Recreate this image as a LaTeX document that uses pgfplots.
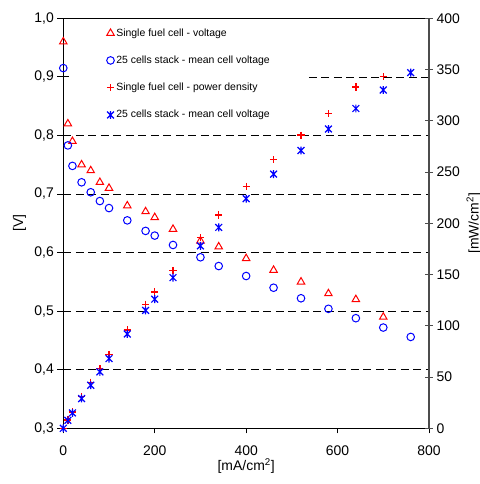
\documentclass[border=0pt]{standalone}
\usepackage{fontspec}
\setmainfont{Liberation Sans}
\usepackage{pgfplots}
\pgfplotsset{compat=1.18}

% Excel-style star: an X with a vertical bar through it
\pgfdeclareplotmark{xstar}{%
  \pgfpathmoveto{\pgfqpoint{-\pgfplotmarksize}{-\pgfplotmarksize}}%
  \pgfpathlineto{\pgfqpoint{\pgfplotmarksize}{\pgfplotmarksize}}%
  \pgfpathmoveto{\pgfqpoint{-\pgfplotmarksize}{\pgfplotmarksize}}%
  \pgfpathlineto{\pgfqpoint{\pgfplotmarksize}{-\pgfplotmarksize}}%
  \pgfpathmoveto{\pgfqpoint{0pt}{-1.15\pgfplotmarksize}}%
  \pgfpathlineto{\pgfqpoint{0pt}{1.15\pgfplotmarksize}}%
  \pgfusepathqstroke}

\pgfplotsset{
  common/.style={
    scale only axis, width=365.7bp, height=410bp,
    at={(63.3bp,55.7bp)}, anchor=south west,
    xmin=0, xmax=800,
    tick label style={font=\fontsize{14}{16}\selectfont},
    /pgf/number format/assume math mode=true,
  },
  svolt/.style={only marks, mark=triangle, mark size=4.3bp, color=red, mark options={line width=1bp, color=red}},
  stvolt/.style={only marks, mark=o, mark size=3.8bp, color=blue, mark options={line width=1bp, color=blue}},
  spow/.style={only marks, mark=+, mark size=3.6bp, color=red, mark options={line width=1.3bp, color=red}},
  stpow/.style={only marks, mark=xstar, mark size=3.4bp, color=blue, mark options={line width=1.2bp, color=blue}},
  grid line/.style={black, line width=0.7bp, dash pattern=on 8bp off 4.5bp, forget plot},
}

\begin{document}
\begin{tikzpicture}
\useasboundingbox (0,0) rectangle (480bp,484bp);

\begin{axis}[common,
  ymin=0.3, ymax=1.0,
  xtick={0,200,400,600,800}, ytick={0.3,0.4,...,1.0},
  xtick pos=bottom, ytick pos=left,
  ytick align=center,
  major tick length=12bp,
  x tick style={draw=none},
  axis line style={black, line width=0.8bp},
  tick style={black, line width=0.8bp},
  yticklabel style={/pgf/number format/.cd, use comma, fixed, fixed zerofill, precision=1},
  xticklabel style={yshift=-14bp},
  xlabel={[mA/cm\textsuperscript{2}]}, ylabel={[V]},
  every axis x label/.style={at={(axis description cs:0.5,-0.092)}, anchor=center,
    font=\fontsize{14}{16}\selectfont},
  every axis y label/.style={at={(axis description cs:-0.12,0.5)}, anchor=center, rotate=90,
    font=\fontsize{14}{16}\selectfont},
  clip=false,
]
\addplot[grid line] coordinates {(0,0.4) (800,0.4)};
\addplot[grid line] coordinates {(0,0.5) (800,0.5)};
\addplot[grid line] coordinates {(0,0.6) (800,0.6)};
\addplot[grid line] coordinates {(0,0.7) (800,0.7)};
\addplot[grid line] coordinates {(0,0.8) (800,0.8)};
\addplot[grid line] coordinates {(537,0.9) (800,0.9)};

% single fuel cell voltage
\addplot[svolt] coordinates {
  (0,0.96) (10,0.82) (20,0.79) (40,0.75) (60,0.74) (80,0.72) (100,0.71)
  (140,0.68) (180,0.67) (200,0.66) (240,0.64) (300,0.62) (340,0.61)
  (400,0.59) (460,0.57) (520,0.55) (580,0.53) (640,0.52) (700,0.49)
};
% 25 cells stack mean cell voltage
\addplot[stvolt] coordinates {
  (0,0.915) (10,0.783) (20,0.748) (40,0.72) (60,0.703) (80,0.688) (100,0.676)
  (140,0.655) (180,0.637) (200,0.629) (240,0.613) (300,0.592) (340,0.577)
  (400,0.56) (460,0.54) (520,0.522) (580,0.504) (640,0.488) (700,0.472)
  (760,0.456)
};
\end{axis}

% x tick marks only (shorter, outside)
\begin{axis}[common,
  ymin=0.3, ymax=1.0,
  axis y line=none, axis x line*=bottom,
  xtick={0,200,400,600,800}, xticklabels={},
  xtick align=outside, major tick length=5bp,
  axis line style={draw=none},
  tick style={black, line width=0.8bp},
]
\end{axis}

\begin{axis}[common,
  ymin=0, ymax=400, ytick={0,50,...,400},
  axis x line=none, axis y line*=right,
  ytick align=center, major tick length=8bp,
  axis line style={black!70, line width=1.3bp},
  tick style={black!70, line width=1bp},
  ylabel={[mW/cm\textsuperscript{2}]},
  every axis y label/.style={at={(axis description cs:1.123,0.5)}, anchor=center, rotate=90,
    font=\fontsize{14}{16}\selectfont},
  legend style={at={(0.11,0.985)}, anchor=north west, draw=none, fill=none,
    font=\fontsize{10.5}{12}\selectfont, row sep=14.2bp},
  legend cell align=left,
  legend image code/.code={\draw[#1] plot coordinates {(4bp,0bp)};},
]
\addlegendimage{svolt}
\addlegendentry{Single fuel cell - voltage}
\addlegendimage{stvolt}
\addlegendentry{25 cells stack - mean cell voltage}

% single fuel cell power density
\addplot[spow] coordinates {
  (0,0) (10,8) (20,16) (40,31) (60,45) (80,58) (100,72)
  (140,96) (180,121) (200,133) (240,154) (300,186) (340,208)
  (400,236) (460,262) (520,286) (580,307) (640,333) (700,343)
};
\addlegendentry{Single fuel cell - power density}
% 25 cells stack power density
\addplot[stpow] coordinates {
  (0,0) (10,7.8) (20,15) (40,29) (60,42) (80,55) (100,68)
  (140,92) (180,115) (200,126) (240,147) (300,178) (340,196)
  (400,224) (460,248) (520,271) (580,292) (640,312) (700,330)
  (760,347)
};
\addlegendentry{25 cells stack - mean cell voltage}
\end{axis}
\end{tikzpicture}
\end{document}
